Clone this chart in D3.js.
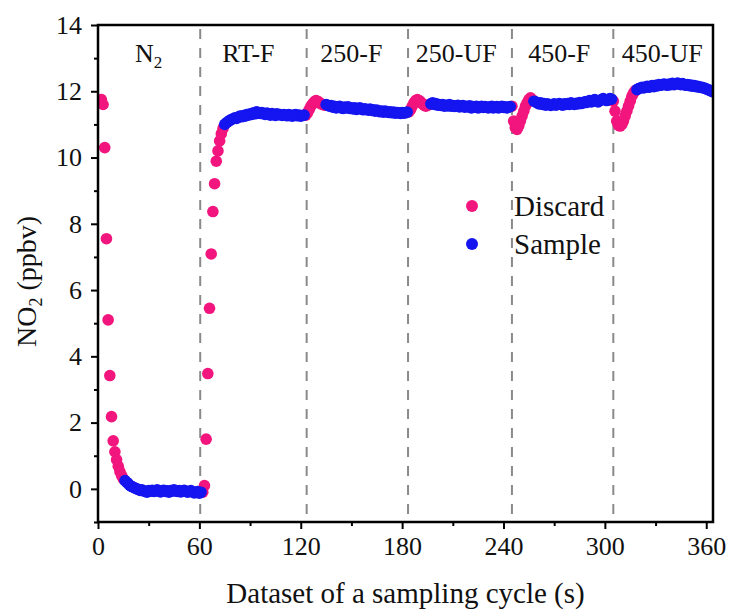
<!DOCTYPE html>
<html><head><meta charset="utf-8">
<script src="https://cdn.jsdelivr.net/npm/d3@7"></script>
<style>html,body{margin:0;padding:0;background:#fff;}</style>
</head><body>
<svg id="chart" width="729" height="610"></svg>
<script>
// ---- data ----
const xTicks = [0, 60, 120, 180, 240, 300, 360];
const xMinorTicks = [30, 90, 150, 210, 270, 330];
const yTicks = [0, 2, 4, 6, 8, 10, 12, 14];
const yMinorTicks = [-1, 1, 3, 5, 7, 9, 11, 13];
const boundaries = [60.5, 123.5, 183.5, 245, 305];
const conditionLabels = ["N2", "RT-F", "250-F", "250-UF", "450-F", "450-UF"];
const conditionCenters = [30, 89, 150, 212, 273, 334];

// Discard segments: start time (s), values at 1 s steps
const discardStarts = [2, 62, 123, 184, 245, 305];
const discardValues = [
  [11.75, 11.6, 10.3, 7.55, 5.1, 3.42, 2.18, 1.45, 1.12, 0.88, 0.68, 0.52, 0.4, 0.3],
  [-0.1, 0.1, 1.5, 3.48, 5.45, 7.09, 8.37, 9.21, 9.89, 10.2, 10.5, 10.72, 10.88],
  [11.28, 11.35, 11.45, 11.55, 11.62, 11.68, 11.72, 11.7, 11.66, 11.62, 11.6, 11.58],
  [11.38, 11.45, 11.55, 11.65, 11.72, 11.75, 11.72, 11.68, 11.62, 11.58, 11.55, 11.57, 11.6],
  [11.55, 11.1, 10.9, 10.85, 10.95, 11.1, 11.25, 11.4, 11.55, 11.65, 11.75, 11.8, 11.75],
  [11.7, 11.4, 11.1, 10.98, 10.95, 11.0, 11.1, 11.25, 11.4, 11.55, 11.7, 11.85, 11.95, 12.02]
];
// Sample segments
const sampleStarts = [16, 75, 135, 197, 258, 319];
const sampleValues = [
  [0.25, 0.2, 0.15, 0.1, 0.07, 0.05, 0.02, 0.0, -0.02, -0.05, -0.03, -0.06, -0.08, -0.1, -0.05, -0.07,
   -0.04, -0.08, -0.06, -0.03, -0.07, -0.09, -0.05, -0.04, -0.08, -0.06, -0.1, -0.05, -0.07, -0.03,
   -0.06, -0.08, -0.05, -0.09, -0.06, -0.04, -0.07, -0.1, -0.08, -0.05, -0.09, -0.12, -0.1, -0.08, -0.13, -0.1],
  [11.0, 11.05, 11.08, 11.12, 11.15, 11.17, 11.2, 11.18, 11.22, 11.25, 11.23, 11.27, 11.25, 11.3, 11.28,
   11.32, 11.3, 11.35, 11.32, 11.38, 11.35, 11.33, 11.36, 11.32, 11.3, 11.34, 11.31, 11.28, 11.33, 11.3,
   11.27, 11.32, 11.29, 11.3, 11.27, 11.3, 11.28, 11.26, 11.3, 11.27, 11.25, 11.28, 11.3, 11.26, 11.28,
   11.25, 11.27, 11.28],
  [11.6, 11.58, 11.55, 11.57, 11.52, 11.55, 11.5, 11.53, 11.55, 11.5, 11.48, 11.52, 11.5, 11.53, 11.48,
   11.5, 11.47, 11.5, 11.45, 11.48, 11.5, 11.46, 11.44, 11.47, 11.45, 11.43, 11.46, 11.42, 11.44, 11.4,
   11.43, 11.41, 11.38, 11.4, 11.37, 11.4, 11.38, 11.36, 11.38, 11.35, 11.37, 11.34, 11.36, 11.35, 11.33,
   11.36, 11.34, 11.35, 11.37],
  [11.62, 11.65, 11.6, 11.63, 11.58, 11.6, 11.57, 11.6, 11.55, 11.58, 11.56, 11.6, 11.55, 11.57, 11.54,
   11.56, 11.58, 11.53, 11.55, 11.57, 11.52, 11.55, 11.53, 11.56, 11.5, 11.54, 11.52, 11.55, 11.5, 11.53,
   11.55, 11.51, 11.54, 11.52, 11.5, 11.53, 11.55, 11.5, 11.52, 11.54, 11.5, 11.52, 11.55, 11.51, 11.53,
   11.5, 11.52, 11.54],
  [11.7, 11.68, 11.65, 11.62, 11.65, 11.6, 11.63, 11.58, 11.62, 11.6, 11.57, 11.6, 11.62, 11.58, 11.6,
   11.63, 11.6, 11.58, 11.62, 11.6, 11.63, 11.6, 11.65, 11.62, 11.6, 11.64, 11.62, 11.66, 11.63, 11.65,
   11.68, 11.66, 11.7, 11.72, 11.68, 11.72, 11.75, 11.7, 11.68, 11.72, 11.75, 11.78, 11.75, 11.72, 11.75,
   11.78, 11.76],
  [12.05, 12.08, 12.1, 12.12, 12.1, 12.13, 12.15, 12.12, 12.15, 12.17, 12.14, 12.18, 12.16, 12.2, 12.18,
   12.2, 12.22, 12.2, 12.18, 12.22, 12.2, 12.24, 12.2, 12.22, 12.25, 12.22, 12.2, 12.23, 12.2, 12.18,
   12.2, 12.17, 12.19, 12.15, 12.17, 12.14, 12.15, 12.12, 12.13, 12.1, 12.1, 12.07, 12.05, 12.03, 12.0, 11.98]
];
const seriesNames = ["Discard", "Sample"];
const seriesColors = ["#f2157d", "#1515f0"];

// ---- build points ----
function toPoints(starts, values) {
  const pts = [];
  starts.forEach((s, k) => values[k].forEach((v, i) => pts.push({t: s + i, v: v})));
  return pts;
}
const discardPts = toPoints(discardStarts, discardValues);
const samplePts = toPoints(sampleStarts, sampleValues);

// ---- layout ----
const L = 98, R = 713, T = 25, B = 522;
const svg = d3.select("#chart");
const x = d3.scaleLinear().domain([0, 364]).range([L, R]);
const y = d3.scaleLinear().domain([-1, 14]).range([B, T]);
const serif = "'Liberation Serif', 'Times New Roman', serif";

svg.append("defs").append("clipPath").attr("id", "clip")
  .append("rect").attr("x", L).attr("y", T).attr("width", R - L).attr("height", B - T);

// dashed separators
svg.append("g").selectAll("line").data(boundaries).join("line")
  .attr("x1", d => x(d)).attr("x2", d => x(d))
  .attr("y1", T + 4).attr("y2", B)
  .attr("stroke", "#8a8a8a").attr("stroke-width", 2).attr("stroke-dasharray", "10,9");

// points
const plot = svg.append("g").attr("clip-path", "url(#clip)");
plot.append("g").selectAll("circle").data(discardPts).join("circle")
  .attr("cx", d => x(d.t)).attr("cy", d => y(d.v)).attr("r", 5.8).attr("fill", seriesColors[0]);
plot.append("g").selectAll("circle").data(samplePts).join("circle")
  .attr("cx", d => x(d.t)).attr("cy", d => y(d.v)).attr("r", 5.8).attr("fill", seriesColors[1]);

// axes
const xAxis = svg.append("g").attr("transform", `translate(0,${B})`)
  .call(d3.axisBottom(x).tickValues(xTicks).tickSize(7).tickPadding(8).tickSizeOuter(0));
const xMinor = svg.append("g").attr("transform", `translate(0,${B})`)
  .call(d3.axisBottom(x).tickValues(xMinorTicks).tickSize(4).tickFormat("").tickSizeOuter(0));
const yAxis = svg.append("g").attr("transform", `translate(${L},0)`)
  .call(d3.axisLeft(y).tickValues(yTicks).tickSize(7).tickPadding(9).tickSizeOuter(0));
const yMinor = svg.append("g").attr("transform", `translate(${L},0)`)
  .call(d3.axisLeft(y).tickValues(yMinorTicks).tickSize(4).tickFormat("").tickSizeOuter(0));
[xAxis, xMinor, yAxis, yMinor].forEach(g => {
  g.select(".domain").remove();
  g.selectAll(".tick line").attr("stroke", "#000").attr("stroke-width", 2);
  g.selectAll("text").attr("font-family", serif).attr("font-size", 26).attr("fill", "#111");
});

// frame
svg.append("rect").attr("x", L).attr("y", T).attr("width", R - L).attr("height", B - T)
  .attr("fill", "none").attr("stroke", "#000").attr("stroke-width", 2.5);

// condition labels
const labs = svg.append("g").attr("font-family", serif).attr("font-size", 26).attr("fill", "#111")
  .attr("text-anchor", "middle");
conditionLabels.forEach((lab, i) => {
  const t = labs.append("text").attr("x", x(conditionCenters[i])).attr("y", 62);
  if (lab === "N2") {
    t.append("tspan").text("N");
    t.append("tspan").attr("font-size", 17).attr("dy", 6).text("2");
  } else t.text(lab);
});

// legend
const leg = svg.append("g").attr("font-family", serif).attr("font-size", 29).attr("fill", "#111");
seriesNames.forEach((n, i) => {
  leg.append("circle").attr("cx", 472).attr("cy", 206 + i * 38).attr("r", 6).attr("fill", seriesColors[i]);
  leg.append("text").attr("x", 514).attr("y", 216 + i * 38).text(n);
});

// axis titles
svg.append("text").attr("x", (L + R) / 2).attr("y", 603).attr("text-anchor", "middle")
  .attr("font-family", serif).attr("font-size", 29).attr("fill", "#111")
  .text("Dataset of a sampling cycle (s)");
const yt = svg.append("text").attr("transform", `translate(36,${(T + B) / 2 + 8}) rotate(-90)`)
  .attr("text-anchor", "middle").attr("font-family", serif).attr("font-size", 28).attr("fill", "#111");
yt.append("tspan").text("NO");
yt.append("tspan").attr("font-size", 18).attr("dy", 6).text("2");
yt.append("tspan").attr("dy", -6).text(" (ppbv)");
</script>
</body></html>
